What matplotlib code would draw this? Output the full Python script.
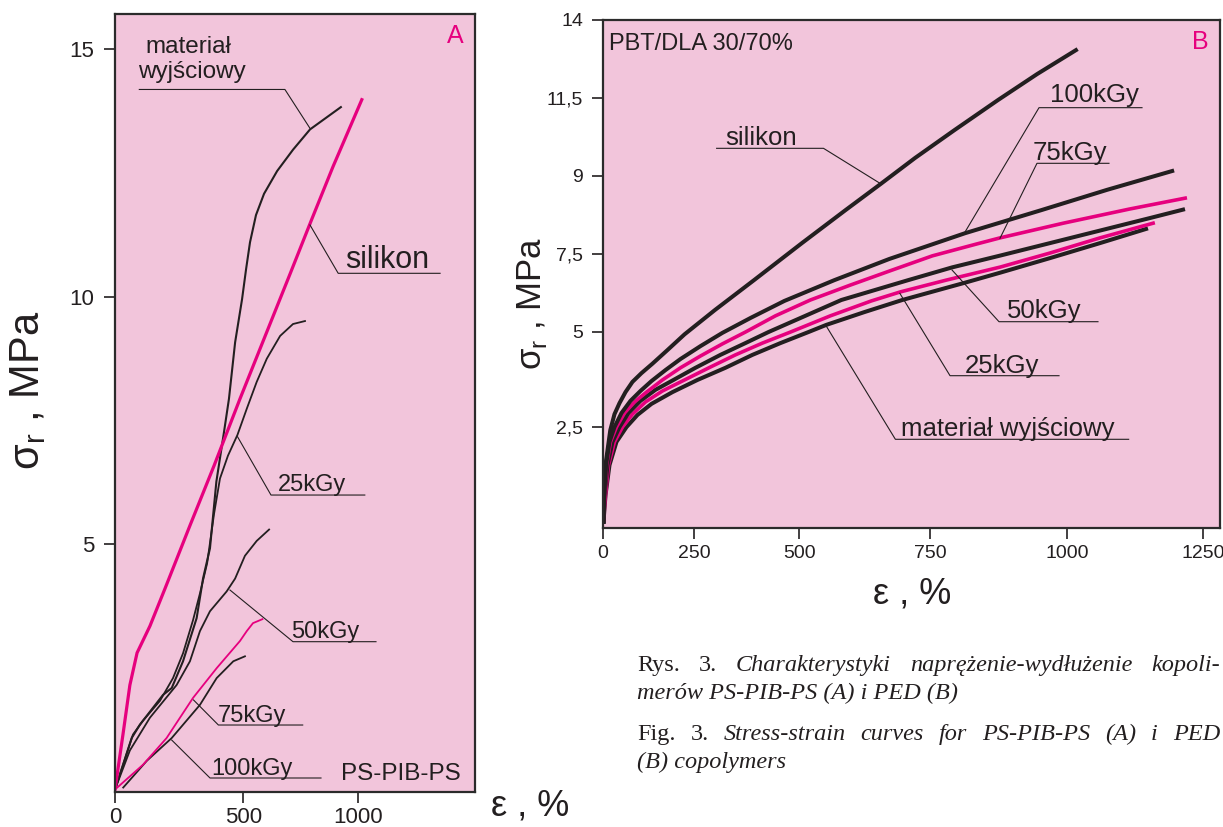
import numpy as np
import matplotlib
matplotlib.use('Agg')
import matplotlib.pyplot as plt

plt.rcParams['font.family'] = ['Liberation Sans', 'DejaVu Sans']
plt.rcParams['mathtext.fontset'] = 'custom'
plt.rcParams['mathtext.rm'] = 'Liberation Sans'

PINK_BG = '#f2c5db'
MAGENTA = '#e6007e'
INK = '#231f20'

# ---- panel A data (PS-PIB-PS), strain % / stress MPa
a_silikon_x = [0, 31, 58, 86, 136, 195, 292, 386, 487, 602, 703, 797, 890, 1015]
a_silikon_y = [0.05, 1.16, 2.16, 2.81, 3.35, 4.11, 5.38, 6.59, 7.94, 9.29, 10.46, 11.56, 12.63, 13.98]

a_material_x = [0, 65, 97, 187, 221, 265, 318, 343, 370, 395, 425, 444, 468, 495, 512, 529, 555, 590, 647, 716, 790, 924]
a_material_y = [0.05, 1.09, 1.36, 1.96, 2.10, 2.64, 3.51, 4.31, 4.92, 6.27, 7.28, 7.94, 9.08, 9.95, 10.56, 11.10, 11.65, 12.08, 12.54, 12.97, 13.38, 13.83]

a_25_x = [0, 70, 109, 175, 226, 265, 304, 331, 359, 386, 409, 440, 477, 515, 558, 602, 660, 716, 768]
a_25_y = [0.05, 1.16, 1.44, 1.84, 2.30, 2.80, 3.47, 4.01, 4.62, 5.62, 6.33, 6.79, 7.21, 7.74, 8.28, 8.75, 9.21, 9.45, 9.51]

a_50_x = [0, 58, 136, 240, 292, 331, 370, 435, 468, 507, 558, 612]
a_50_y = [0.05, 0.84, 1.50, 2.16, 2.64, 3.25, 3.65, 4.05, 4.31, 4.77, 5.07, 5.30]

a_75_x = [0, 109, 201, 304, 396, 487, 515, 542, 583]
a_75_y = [0.05, 0.55, 1.09, 1.90, 2.50, 3.05, 3.25, 3.41, 3.49]

a_100_x = [32, 124, 221, 331, 396, 461, 507]
a_100_y = [0.09, 0.63, 1.09, 1.76, 2.30, 2.64, 2.74]

a_xticks = [0, 500, 1000]
a_yticks = [5, 10, 15]

# ---- panel B data (PBT/DLA 30/70%)
b_silikon_x = [2.7, 4.1, 9.2, 21.2, 32.6, 46.2, 62.5, 81.5, 106, 136, 177, 223, 299, 392, 505, 588, 655, 721, 794, 874, 945, 1016]
b_silikon_y = [0.0, 0.65, 1.57, 2.41, 2.83, 3.12, 3.41, 3.68, 3.91, 4.16, 4.52, 4.93, 5.70, 6.66, 7.71, 8.34, 8.84, 9.57, 10.46, 11.43, 12.26, 13.03]

b_100_x = [2.7, 4.1, 9.5, 19, 32.6, 51.6, 76.1, 103.2, 133.1, 171.2, 211.9, 264.3, 316.7, 383.3, 464.3, 567, 671.7, 813.9, 952.6, 1073.5, 1193]
b_100_y = [0.0, 0.65, 1.49, 2.10, 2.49, 2.86, 3.18, 3.44, 3.70, 3.99, 4.28, 4.62, 4.97, 5.44, 5.99, 6.66, 7.34, 7.90, 8.34, 8.73, 9.15]

b_75_x = [2.7, 5.4, 10.9, 21.7, 38, 59.8, 86.9, 119.6, 163, 212, 264.3, 316.7, 371.4, 442.9, 521, 597.3, 671.7, 753.7, 834, 877.8, 992.7, 1114, 1217]
b_75_y = [0.04, 0.70, 1.49, 2.10, 2.49, 2.86, 3.15, 3.41, 3.73, 4.05, 4.36, 4.68, 4.99, 5.51, 6.02, 6.50, 6.95, 7.44, 7.69, 7.81, 8.09, 8.36, 8.57]

b_50_x = [2.7, 5.4, 13.6, 27.2, 46.2, 70.6, 103.2, 144, 193, 252.4, 311.9, 371.4, 426.2, 501.9, 580.1, 708, 790, 877.8, 969, 1060.7, 1152.6, 1213]
b_50_y = [0.0, 0.70, 1.49, 2.10, 2.49, 2.86, 3.18, 3.47, 3.73, 4.05, 4.39, 4.70, 4.99, 5.44, 6.02, 6.66, 7.07, 7.45, 7.71, 7.95, 8.19, 8.35]

b_25_x = [2.7, 8.2, 16.3, 32.6, 54.3, 81.5, 116.8, 163, 223, 288.1, 347.6, 411.9, 478.6, 559.1, 637.4, 692.7, 779.2, 877.8, 969, 1060.7, 1158]
b_25_y = [0.04, 0.70, 1.49, 2.10, 2.49, 2.83, 3.15, 3.44, 3.73, 4.07, 4.39, 4.70, 4.99, 5.51, 5.99, 6.28, 6.66, 7.08, 7.52, 7.81, 8.09]

b_mat_x = [2.7, 8.2, 19, 38, 65.2, 95.1, 133.1, 190.2, 257.1, 323.8, 388.1, 454.8, 517.2, 551.5, 624, 696.5, 812, 877.8, 969, 1060.7, 1145]
b_mat_y = [0.0, 0.70, 1.49, 2.10, 2.49, 2.81, 3.10, 3.41, 3.73, 4.05, 4.39, 4.70, 4.99, 5.22, 5.63, 6.02, 6.57, 6.90, 7.37, 7.71, 7.98]

b_xticks = [0, 250, 500, 750, 1000, 1250]
b_yticks = [2.5, 5, 7.5, 9, 11.5, 14]
b_ytick_labels = ['2,5', '5', '7,5', '9', '11,5', '14']

# the printed axes are not evenly spaced, so both panels get a piecewise scale
a_xknots = [-500, 0, 500, 1000, 1500, 2000]
a_xpos = [-128.3, 0, 128.3, 243.3, 358.3, 473.3]
b_xknots = [-250, 0, 250, 500, 750, 1000, 1250, 1500]
b_xpos = [-92, 0, 92, 197, 328, 465, 601, 737]
b_yknots = [-1, 0, 2.5, 5, 7.5, 9, 11.5, 14, 16]
b_ypos = [-38, 0, 95, 190, 267.7, 346, 424, 501.7, 563.9]


def piecewise(knots, pos):
    fwd = lambda v: np.interp(v, knots, pos)
    inv = lambda p: np.interp(p, pos, knots)
    return fwd, inv


def leader(ax, label, txy, pts, size, lw=0.8):
    ax.text(txy[0], txy[1], label, transform=ax.transAxes, fontsize=size,
            ha='left', va='baseline', color=INK)
    xs, ys = zip(*pts)
    ax.plot(xs, ys, transform=ax.transAxes, color=INK, lw=lw, clip_on=False)


def style_axes(ax):
    ax.set_facecolor(PINK_BG)
    for s in ax.spines.values():
        s.set_linewidth(1.6)
        s.set_color('#2b2b2b')


W, H = 1223, 827
fig = plt.figure(figsize=(W / 100, H / 100), dpi=100)

# ---------------- panel A
axA = fig.add_axes([115 / W, 1 - 792 / H, 360 / W, 778 / H])
style_axes(axA)
axA.set_xscale('function', functions=piecewise(a_xknots, a_xpos))
axA.set_xlim(0, 1507)
axA.set_ylim(0, 15.71)

axA.plot(a_material_x, a_material_y, color=INK, lw=1.5)
axA.plot(a_25_x, a_25_y, color=INK, lw=1.3)
axA.plot(a_50_x, a_50_y, color=INK, lw=1.3)
axA.plot(a_100_x, a_100_y, color=INK, lw=1.3)
axA.plot(a_75_x, a_75_y, color=MAGENTA, lw=1.3)
axA.plot(a_silikon_x, a_silikon_y, color=MAGENTA, lw=2.3)

axA.set_xticks(a_xticks)
axA.set_xticklabels([str(v) for v in a_xticks])
axA.set_yticks(a_yticks)
axA.set_yticklabels([str(v) for v in a_yticks])
axA.tick_params(direction='out', length=8, width=1.2, colors=INK, labelsize=16)
axA.tick_params(axis='y', pad=7)
axA.tick_params(axis='x', pad=3)

axA.text(0.0853, 0.950, 'materiał', transform=axA.transAxes, fontsize=17.5,
         ha='left', va='baseline', color=INK)
leader(axA, 'wyjściowy', (0.064, 0.918),
       [(0.0675, 0.903), (0.472, 0.903), (0.5417, 0.853)], 17.5)
leader(axA, 'silikon', (0.639, 0.6735),
       [(0.5417, 0.7288), (0.620, 0.6667), (0.903, 0.6667)], 22)
leader(axA, '25kGy', (0.452, 0.3869),
       [(0.3403, 0.4567), (0.4333, 0.3817), (0.6939, 0.3817)], 17)
leader(axA, '50kGy', (0.4889, 0.1979),
       [(0.3194, 0.2596), (0.4944, 0.1932), (0.725, 0.1932)], 17)
leader(axA, '75kGy', (0.2861, 0.090),
       [(0.2181, 0.1183), (0.2872, 0.0861), (0.5214, 0.0861)], 17)
leader(axA, '100kGy', (0.2686, 0.0219),
       [(0.1575, 0.0668), (0.2639, 0.018), (0.5722, 0.018)], 17)
axA.text(0.6278, 0.0154, 'PS-PIB-PS', transform=axA.transAxes, fontsize=17.5,
         ha='left', va='baseline', color=INK)
axA.text(0.944, 0.9717, 'A', transform=axA.transAxes, fontsize=18,
         ha='center', va='center', color=MAGENTA)

fig.text(28 / W, 1 - 390 / H, 'σ$_\\mathregular{r}$ , MPa', rotation=90,
         fontsize=30, ha='center', va='center', color=INK)
fig.text(530 / W, 1 - 806 / H, 'ε , %', fontsize=26, ha='center', va='center',
         color=INK)

# ---------------- panel B
axB = fig.add_axes([602.5 / W, 1 - 528 / H, 617.5 / W, 508 / H])
style_axes(axB)
axB.set_xscale('function', functions=piecewise(b_xknots, b_xpos))
axB.set_yscale('function', functions=piecewise(b_yknots, b_ypos))
axB.set_xlim(0, 1281)
axB.set_ylim(-0.166, 14)

axB.plot(b_mat_x, b_mat_y, color=INK, lw=2.9, solid_joinstyle='round')
axB.plot(b_25_x, b_25_y, color=MAGENTA, lw=2.6, solid_joinstyle='round')
axB.plot(b_50_x, b_50_y, color=INK, lw=2.9, solid_joinstyle='round')
axB.plot(b_75_x, b_75_y, color=MAGENTA, lw=2.6, solid_joinstyle='round')
axB.plot(b_100_x, b_100_y, color=INK, lw=2.9, solid_joinstyle='round')
axB.plot(b_silikon_x, b_silikon_y, color=INK, lw=2.9, solid_joinstyle='round')

axB.set_xticks(b_xticks)
axB.set_xticklabels([str(v) for v in b_xticks])
axB.set_yticks(b_yticks)
axB.set_yticklabels(b_ytick_labels)
axB.tick_params(direction='out', length=8, width=1.2, colors=INK, labelsize=14)
axB.tick_params(axis='y', pad=6)
axB.tick_params(axis='x', pad=4)

axB.text(0.0105, 0.941, 'PBT/DLA 30/70%', transform=axB.transAxes,
         fontsize=17, ha='left', va='baseline', color=INK)
axB.text(0.9676, 0.9567, 'B', transform=axB.transAxes, fontsize=18,
         ha='center', va='center', color=MAGENTA)
leader(axB, 'silikon', (0.1984, 0.754),
       [(0.1848, 0.7474), (0.3579, 0.7474), (0.4494, 0.6785)], 18.5)
leader(axB, '100kGy', (0.7247, 0.8386),
       [(0.8737, 0.8274), (0.7069, 0.8274), (0.5874, 0.5833)], 18.5)
leader(axB, '75kGy', (0.6972, 0.7244),
       [(0.8202, 0.7179), (0.7036, 0.7179), (0.6437, 0.5703)], 18.5)
leader(axB, '50kGy', (0.6544, 0.4134),
       [(0.8024, 0.4061), (0.6421, 0.4061), (0.566, 0.5079)], 18.5)
leader(axB, '25kGy', (0.587, 0.3051),
       [(0.7393, 0.2998), (0.5628, 0.2998), (0.4815, 0.462)], 18.5)
leader(axB, 'materiał wyjściowy', (0.4834, 0.1811),
       [(0.8521, 0.1746), (0.4743, 0.1746), (0.3613, 0.3996)], 18.5)

fig.text(532 / W, 1 - 303 / H, 'σ$_\\mathregular{r}$ , MPa', rotation=90,
         fontsize=25, ha='center', va='center', color=INK)
fig.text(912 / W, 1 - 594 / H, 'ε , %', fontsize=26, ha='center', va='center',
         color=INK)

# ---------------- caption (lines 1 and 3 are justified like the print)
cap = dict(fontsize=17.5, color=INK, family=['Liberation Serif', 'DejaVu Serif'])
renderer = fig.canvas.get_renderer()


def justified(tokens, base, left=637, right=1220):
    arts = [fig.text(0, 0, w, va='baseline', ha='left',
                     style='italic' if it else 'normal', **cap)
            for w, it in tokens]
    widths = [a.get_window_extent(renderer).width for a in arts]
    gap = (right - left - sum(widths)) / (len(arts) - 1)
    x = left
    for a, w in zip(arts, widths):
        a.set_position((x / W, 1 - base / H))
        x += w + gap


justified([('Rys.', False), ('3.', False), ('Charakterystyki', True),
           ('naprężenie-wydłużenie', True), ('kopoli-', True)], 671)
fig.text(637 / W, 1 - 699 / H, 'merów PS-PIB-PS (A) i PED (B)', va='baseline',
         ha='left', style='italic', **cap)
justified([('Fig.', False), ('3.', False), ('Stress-strain', True),
           ('curves', True), ('for', True), ('PS-PIB-PS', True), ('(A)', True),
           ('i', True), ('PED', True)], 740)
fig.text(637 / W, 1 - 768 / H, '(B) copolymers', va='baseline', ha='left',
         style='italic', **cap)

fig.savefig('out.png', dpi=100)
